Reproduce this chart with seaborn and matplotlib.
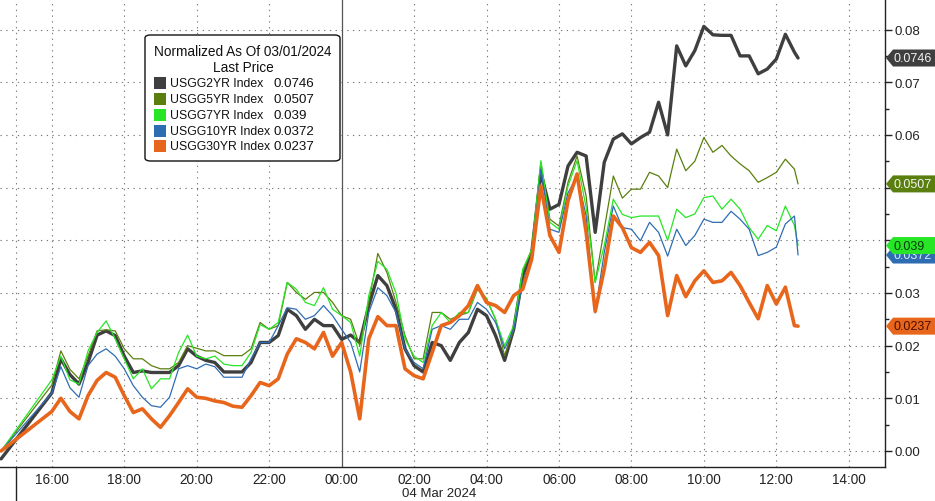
import numpy as np
import pandas as pd
import matplotlib
matplotlib.use("Agg")
import matplotlib.pyplot as plt
import matplotlib.transforms as mtransforms
from matplotlib.patches import Polygon, FancyBboxPatch, Rectangle
import seaborn as sns

# ---------------- data ----------------
series_names = ["USGG2YR Index", "USGG5YR Index", "USGG7YR Index",
                "USGG10YR Index", "USGG30YR Index"]

# hours relative to 00:00 on 04 Mar 2024 (weekend compressed at the start)
start_hour = [-9.40]
grid_hours = list(-8 + 0.25 * np.arange(83))
end_hour = [12.6]
hours = np.array(start_hour + grid_hours + end_hour)

usgg2 = [-0.0015,
         0.0110, 0.0175, 0.0145, 0.0127, 0.0168, 0.0220, 0.0228, 0.0219, 0.0180, 0.0149,
         0.0152, 0.0149, 0.0149, 0.0149, 0.0162, 0.0194, 0.0180, 0.0172, 0.0168, 0.0150,
         0.0150, 0.0150, 0.0168, 0.0206, 0.0206, 0.0219, 0.0269, 0.0257, 0.0231, 0.0250,
         0.0238, 0.0238, 0.0212, 0.0220, 0.0206, 0.0276, 0.0333, 0.0314, 0.0269, 0.0194,
         0.0162, 0.0150, 0.0206, 0.0200, 0.0172, 0.0206, 0.0225, 0.0269, 0.0257, 0.0219,
         0.0172, 0.0231, 0.0333, 0.0377, 0.0529, 0.0459, 0.0468, 0.0541, 0.0567, 0.0560,
         0.0415, 0.0548, 0.0592, 0.0602, 0.0583, 0.0595, 0.0605, 0.0662, 0.0600, 0.0769,
         0.0731, 0.0760, 0.0806, 0.0790, 0.0789, 0.0789, 0.0750, 0.0750, 0.0716, 0.0725,
         0.0744, 0.0791, 0.0757,
         0.0746]

usgg5 = [0.0,
         0.0125, 0.0190, 0.0155, 0.0137, 0.0180, 0.0228, 0.0230, 0.0228, 0.0194, 0.0175,
         0.0175, 0.0162, 0.0156, 0.0156, 0.0168, 0.0200, 0.0195, 0.0190, 0.0190, 0.0181,
         0.0181, 0.0181, 0.0194, 0.0244, 0.0231, 0.0238, 0.0320, 0.0301, 0.0288, 0.0301,
         0.0301, 0.0282, 0.0257, 0.0250, 0.0200, 0.0282, 0.0375, 0.0339, 0.0282, 0.0219,
         0.0175, 0.0175, 0.0263, 0.0263, 0.0250, 0.0257, 0.0263, 0.0307, 0.0288, 0.0250,
         0.0181, 0.0231, 0.0339, 0.0383, 0.0548, 0.0440, 0.0427, 0.0510, 0.0560, 0.0484,
         0.0320, 0.0421, 0.0522, 0.0480, 0.0497, 0.0497, 0.0529, 0.0522, 0.0500, 0.0573,
         0.0532, 0.0550, 0.0595, 0.0567, 0.0580, 0.0560, 0.0545, 0.0532, 0.0510, 0.0519,
         0.0529, 0.0554, 0.0535,
         0.0507]

usgg7 = [0.0,
         0.0135, 0.0180, 0.0135, 0.0127, 0.0190, 0.0225, 0.0247, 0.0213, 0.0175, 0.0137,
         0.0156, 0.0118, 0.0137, 0.0137, 0.0187, 0.0220, 0.0180, 0.0175, 0.0180, 0.0165,
         0.0162, 0.0162, 0.0187, 0.0240, 0.0231, 0.0244, 0.0320, 0.0307, 0.0282, 0.0276,
         0.0310, 0.0269, 0.0257, 0.0244, 0.0180, 0.0295, 0.0360, 0.0345, 0.0300, 0.0213,
         0.0180, 0.0168, 0.0238, 0.0263, 0.0244, 0.0263, 0.0263, 0.0310, 0.0290, 0.0250,
         0.0200, 0.0238, 0.0345, 0.0383, 0.0551, 0.0434, 0.0421, 0.0503, 0.0551, 0.0462,
         0.0320, 0.0390, 0.0478, 0.0449, 0.0443, 0.0446, 0.0446, 0.0446, 0.0400, 0.0459,
         0.0443, 0.0450, 0.0481, 0.0484, 0.0459, 0.0478, 0.0459, 0.0424, 0.0402, 0.0428,
         0.0418, 0.0465, 0.0428,
         0.0390]

usgg10 = [0.0,
          0.0110, 0.0160, 0.0120, 0.0102, 0.0162, 0.0184, 0.0194, 0.0180, 0.0156, 0.0124,
          0.0102, 0.0086, 0.0083, 0.0102, 0.0156, 0.0162, 0.0156, 0.0165, 0.0160, 0.0140,
          0.0140, 0.0140, 0.0175, 0.0206, 0.0206, 0.0238, 0.0272, 0.0269, 0.0250, 0.0257,
          0.0276, 0.0257, 0.0231, 0.0206, 0.0150, 0.0263, 0.0310, 0.0295, 0.0263, 0.0194,
          0.0168, 0.0156, 0.0231, 0.0238, 0.0231, 0.0250, 0.0250, 0.0282, 0.0269, 0.0244,
          0.0194, 0.0231, 0.0320, 0.0371, 0.0535, 0.0421, 0.0415, 0.0490, 0.0522, 0.0446,
          0.0262, 0.0377, 0.0465, 0.0424, 0.0421, 0.0399, 0.0434, 0.0415, 0.0370, 0.0421,
          0.0390, 0.0409, 0.0440, 0.0434, 0.0434, 0.0455, 0.0440, 0.0421, 0.0371, 0.0377,
          0.0387, 0.0431, 0.0446,
          0.0372]

usgg30 = [0.0,
          0.0075, 0.0100, 0.0075, 0.0061, 0.0105, 0.0134, 0.0149, 0.0140, 0.0105, 0.0073,
          0.0080, 0.0061, 0.0045, 0.0067, 0.0092, 0.0118, 0.0102, 0.0100, 0.0095, 0.0092,
          0.0085, 0.0083, 0.0105, 0.0130, 0.0124, 0.0137, 0.0184, 0.0213, 0.0206, 0.0194,
          0.0225, 0.0180, 0.0206, 0.0150, 0.0061, 0.0213, 0.0255, 0.0238, 0.0238, 0.0156,
          0.0143, 0.0137, 0.0187, 0.0238, 0.0244, 0.0257, 0.0276, 0.0314, 0.0282, 0.0276,
          0.0263, 0.0295, 0.0307, 0.0365, 0.0503, 0.0409, 0.0377, 0.0475, 0.0526, 0.0415,
          0.0265, 0.0345, 0.0446, 0.0424, 0.0386, 0.0377, 0.0396, 0.0371, 0.0257, 0.0333,
          0.0293, 0.0323, 0.0342, 0.0320, 0.0323, 0.0339, 0.0314, 0.0282, 0.0251, 0.0314,
          0.0279, 0.0311, 0.0238,
          0.0237]

tick_hours = [-8, -6, -4, -2, 0, 2, 4, 6, 8, 10, 12, 14]
tick_labels = ["16:00", "18:00", "20:00", "22:00", "00:00", "02:00",
               "04:00", "06:00", "08:00", "10:00", "12:00", "14:00"]
separator_hour = -9.0
date_label = "04 Mar 2024"
legend_title = ["Normalized As Of 03/01/2024", "Last Price"]
y_ticks = [0.00, 0.01, 0.02, 0.03, 0.04, 0.05, 0.06, 0.07, 0.08]

# ---------------- styles ----------------
line_colors = {"USGG2YR Index": "#3f3f3f", "USGG5YR Index": "#5b7f0f",
               "USGG7YR Index": "#26e626", "USGG10YR Index": "#2f6db3",
               "USGG30YR Index": "#e8661c"}
line_widths = {"USGG2YR Index": 2.4, "USGG5YR Index": 0.9,
               "USGG7YR Index": 0.9, "USGG10YR Index": 0.9,
               "USGG30YR Index": 2.6}
tag_text_colors = {"USGG2YR Index": "#f2f2f2", "USGG5YR Index": "#f2f2f2",
                   "USGG7YR Index": "#0c3a0c", "USGG10YR Index": "#dce8f6",
                   "USGG30YR Index": "#4a0e00"}

values = [usgg2, usgg5, usgg7, usgg10, usgg30]
df = pd.concat([pd.DataFrame({"hour": hours, "value": v, "series": n})
                for n, v in zip(series_names, values)], ignore_index=True)

sns.set_style("white")
plt.rcParams["font.family"] = ["Liberation Sans", "DejaVu Sans"]

W, H = 935, 502
fig = plt.figure(figsize=(W / 100, H / 100), dpi=100)
ax_left, ax_right, ax_top, ax_bottom = 0, 885, 0, 468
ax = fig.add_axes([ax_left / W, (H - ax_bottom) / H,
                   (ax_right - ax_left) / W, (ax_bottom - ax_top) / H])

ymin, ymax = -0.00304, 0.0858
xmin, xmax = -9.43, 15.0

sns.lineplot(data=df, x="hour", y="value", hue="series", size="series",
             hue_order=series_names, size_order=series_names,
             palette=line_colors, sizes=line_widths, estimator=None,
             sort=False, legend=False, ax=ax, zorder=3)

ax.set_xlim(xmin, xmax)
ax.set_ylim(ymin, ymax)
ax.set_xlabel("")
ax.set_ylabel("")

# grid
grid_kw = dict(color="#7a7a7a", linewidth=0.8, linestyle=(0, (1.2, 4)), zorder=1)
for yv in y_ticks:
    ax.axhline(yv, **grid_kw)
for xv in [separator_hour] + tick_hours:
    if xv != 0:
        ax.axvline(xv, **grid_kw)
ax.axvline(0, color="#555555", linewidth=0.9, zorder=2)

# axes spines / ticks
for s in ["top", "left"]:
    ax.spines[s].set_visible(False)
for s in ["right", "bottom"]:
    ax.spines[s].set_color("#222222")
    ax.spines[s].set_linewidth(1.0)

# last-value tags decide which y labels stay visible (tags hide them)
last_values = {n: v[-1] for n, v in zip(series_names, values)}
unit_per_px = (ymax - ymin) / (ax_bottom - ax_top)
ylabels = []
for v in y_ticks:
    hidden = any(abs(v - lv) < 13 * unit_per_px for lv in last_values.values())
    ylabels.append("" if hidden else f"{v:.2f}")

ax.yaxis.tick_right()
ax.set_yticks(y_ticks)
ax.set_yticklabels(ylabels)
ax.set_yticks([v + 0.005 for v in y_ticks[:-1]], minor=True)
ax.tick_params(axis="y", which="major", direction="out", length=5, width=1,
               color="#222222", labelsize=9.5, labelcolor="#222222", pad=2)
ax.tick_params(axis="y", which="minor", direction="out", length=3, width=1,
               color="#222222")

ax.set_xticks(tick_hours)
ax.set_xticklabels(tick_labels)
ax.set_xticks([h + 1 for h in tick_hours[:-1]], minor=True)
ax.tick_params(axis="x", which="major", direction="out", length=3, width=1,
               color="#222222", labelsize=9.8, labelcolor="#222222", pad=0.5)
ax.tick_params(axis="x", which="minor", direction="out", length=3, width=1,
               color="#222222")

# day separator below axis
sep_trans = mtransforms.blended_transform_factory(ax.transData, ax.transAxes)
ax.plot([separator_hour, separator_hour], [0, -34 / 468], color="#222222",
        linewidth=1.0, transform=sep_trans, clip_on=False)

fig.text(439 / W, (H - 494.5) / H, date_label, ha="center", va="center",
         fontsize=9.5, color="#222222")

# last-value tags on the right
tag_trans = mtransforms.blended_transform_factory(ax.transAxes, ax.transData)
axw = ax_right - ax_left
half = 8.5 * unit_per_px


def fmt_last(v):
    return f"{v:.4f}".rstrip("0")


tag_order = ["USGG2YR Index", "USGG5YR Index", "USGG10YR Index",
             "USGG7YR Index", "USGG30YR Index"]
for i, n in enumerate(tag_order):
    yv = last_values[n]
    x0, x1, x2 = 886.0 / axw, 893.0 / axw, 940.0 / axw
    poly = Polygon([[x0, yv], [x1, yv + half], [x2, yv + half],
                    [x2, yv - half], [x1, yv - half]], closed=True,
                   facecolor=line_colors[n], edgecolor="none",
                   transform=tag_trans, clip_on=False, zorder=5 + 2 * i)
    ax.add_patch(poly)
    ax.text(894.0 / axw, yv, fmt_last(yv), transform=tag_trans, ha="left",
            va="center", fontsize=9, color=tag_text_colors[n],
            zorder=6 + 2 * i, clip_on=False)


# legend box (manual to keep value column aligned)
def fx(px):
    return px / W


def fy(py):
    return (H - py) / H


box = FancyBboxPatch((fx(145), fy(162)), fx(340) - fx(145), fy(36) - fy(162),
                     boxstyle="round,pad=0,rounding_size=0.006",
                     transform=fig.transFigure, facecolor="white",
                     edgecolor="#111111", linewidth=1.0, zorder=10)
fig.patches.append(box)
fig.text(fx(243), fy(52), legend_title[0], ha="center", va="center",
         fontsize=9.8, color="#111111", zorder=11)
fig.text(fx(243), fy(68), legend_title[1], ha="center", va="center",
         fontsize=9.8, color="#111111", zorder=11)
entry_y = [84, 100, 116, 131.7, 147.3]
for n, py in zip(series_names, entry_y):
    sq = Rectangle((fx(154), fy(py + 6)), fx(166) - fx(154), fy(py - 6) - fy(py + 6),
                   transform=fig.transFigure, facecolor=line_colors[n],
                   edgecolor="none", zorder=11)
    fig.patches.append(sq)
    fig.text(fx(170.5), fy(py), n, ha="left", va="center", fontsize=8.8,
             color="#111111", zorder=11)
    fig.text(fx(274), fy(py), fmt_last(last_values[n]), ha="left", va="center",
             fontsize=9.6, color="#111111", zorder=11)

fig.savefig("out.png", dpi=100, facecolor="white")
